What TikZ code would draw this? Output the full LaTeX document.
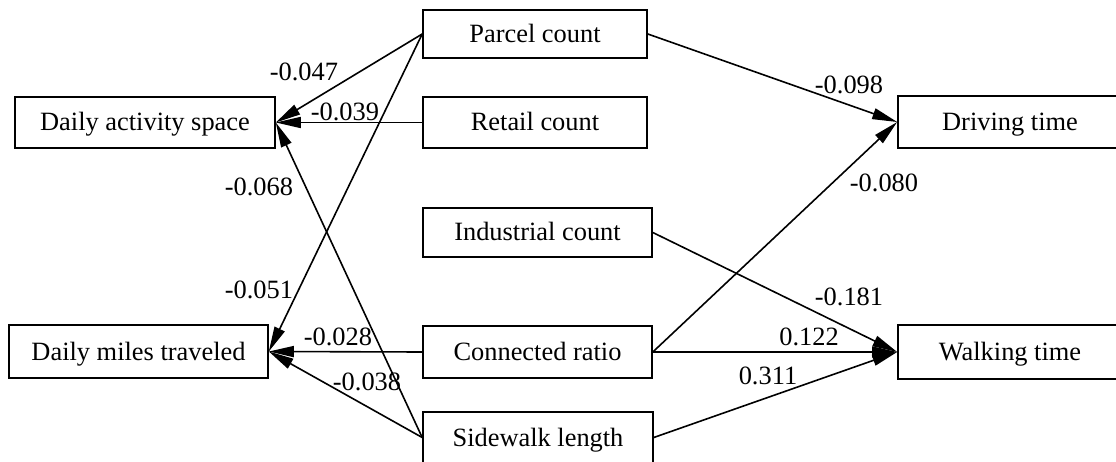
\documentclass[tikz,border=0pt]{standalone}
\usepackage{fontspec}
\setmainfont{Liberation Serif}
\usetikzlibrary{arrows.meta}
\tikzset{
  box/.style={draw, line width=1.6pt, inner sep=0pt, fill=white,
    text height=20pt, text depth=3pt,
    font=\fontsize{26.4}{30}\selectfont},
  coef/.style={inner sep=0pt, font=\fontsize{26.4}{30}\selectfont},
  path/.style={line width=1.6pt, -{Triangle[length=25pt,width=11pt]}}
}
\begin{document}
\begin{tikzpicture}[x=1pt,y=-1pt]
\useasboundingbox (0,0) rectangle (1116,462);

% outcome variables (left)
\node[box, minimum width=260pt, minimum height=51pt] (das) at (145,122.5) {Daily activity space};
\node[box, minimum width=259pt, minimum height=53pt] (dmt) at (138.5,351.5) {Daily miles traveled};

% built-environment predictors (centre)
\node[box, minimum width=224pt, minimum height=48pt] (parcel) at (535,34) {Parcel count};
\node[box, minimum width=224pt, minimum height=51pt] (retail) at (535,122.5) {Retail count};
\node[box, minimum width=229pt, minimum height=49pt] (indus) at (537.5,232.5) {Industrial count};
\node[box, minimum width=229pt, minimum height=52pt] (conn) at (537.5,352) {Connected ratio};
\node[box, minimum width=230pt, minimum height=51pt] (side) at (538,437.5) {Sidewalk length};

% outcome variables (right)
\node[box, minimum width=224pt, minimum height=52pt] (drive) at (1010,122) {Driving time};
\node[box, minimum width=224pt, minimum height=54pt] (walk) at (1010,352) {Walking time};

% paths
\draw[path] (parcel.west) -- (das.east);
\draw[path] (retail.west) -- (das.east);
\draw[path] (side.west) -- (das.east);
\draw[path] (parcel.west) -- (dmt.east);
\draw[path] (conn.west) -- (dmt.east);
\draw[path] (side.west) -- (dmt.east);
\draw[path] (parcel.east) -- (drive.west);
\draw[path] (conn.east) -- (drive.west);
\draw[path] (indus.east) -- (walk.west);
\draw[path] (conn.east) -- (walk.west);
\draw[path] (side.east) -- (walk.west);

% path coefficients
\node[coef] (c1) at (304,72) {-0.047};
\node[coef] (c2) at (345,112) {-0.039};
\node[coef] (c3) at (259,187) {-0.068};
\node[coef] (c4) at (259,290) {-0.051};
\node[coef] (c5) at (338,337) {-0.028};
\node[coef] (c6) at (367,382) {-0.038};
\node[coef] (c7) at (849,85) {-0.098};
\node[coef] (c8) at (884,183) {-0.080};
\node[coef] (c9) at (849,297) {-0.181};
\node[coef] (c10) at (809,337) {0.122};
\node[coef] (c11) at (768,376) {0.311};
\end{tikzpicture}
\end{document}
